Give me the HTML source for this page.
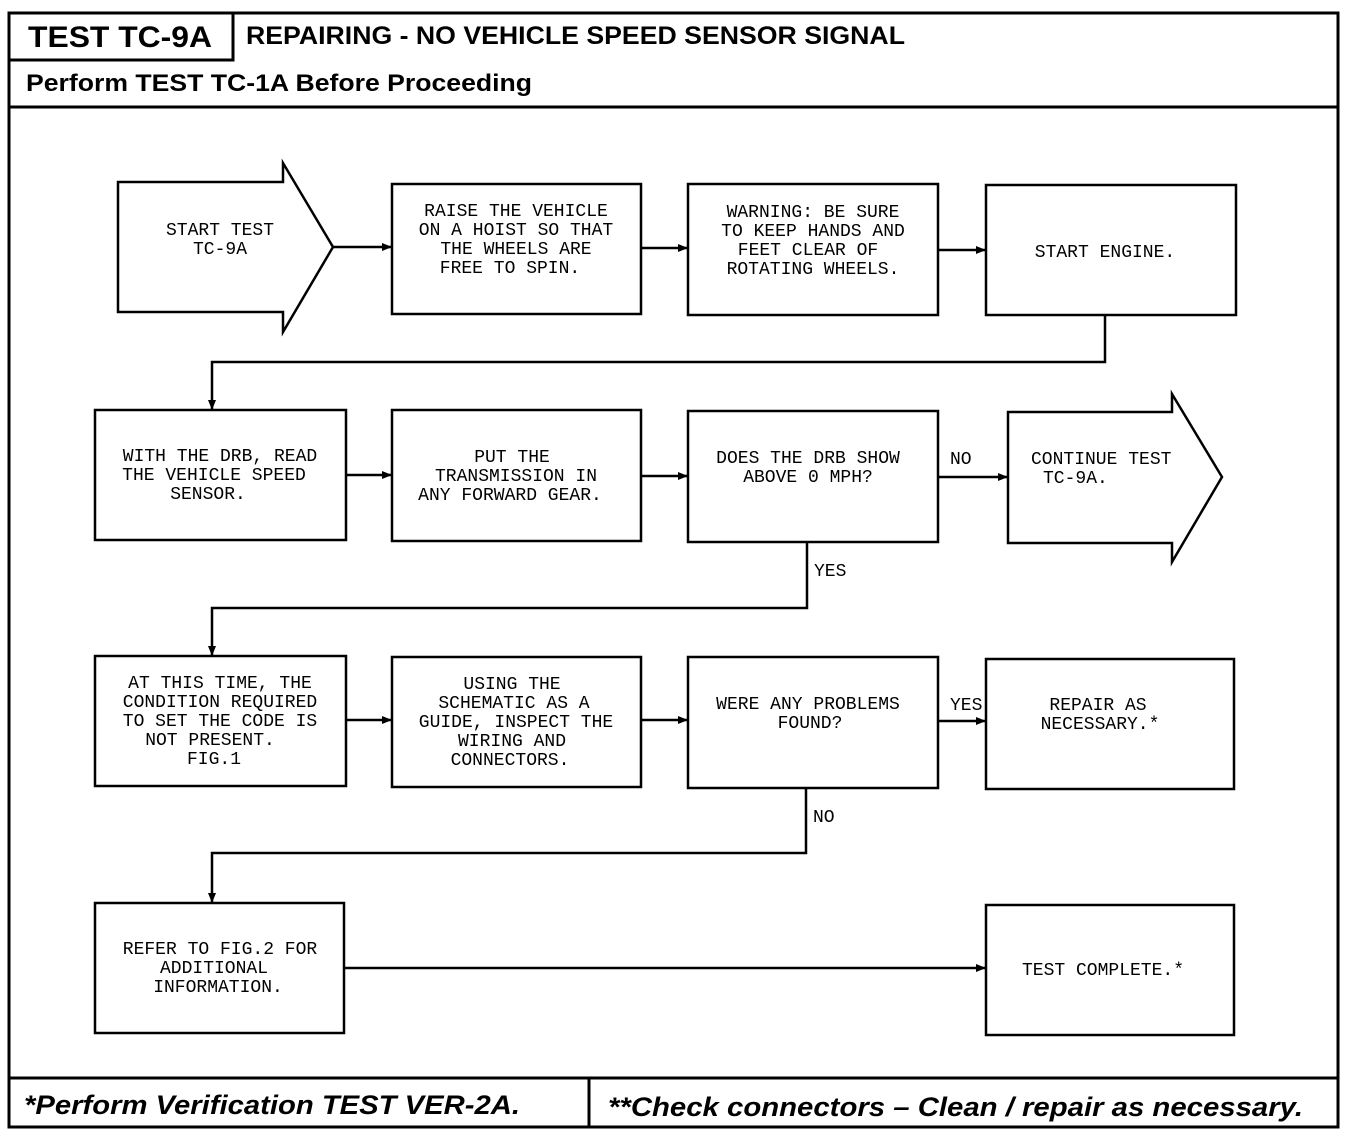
<!DOCTYPE html>
<html><head><meta charset="utf-8"><style>
html,body{margin:0;padding:0;background:#fff;}
svg{display:block;}
.t{font-family:"Liberation Mono",monospace;font-size:18px;fill:#000;text-anchor:middle;}
.l{font-family:"Liberation Mono",monospace;font-size:18px;fill:#000;}
.h{font-family:"Liberation Sans",sans-serif;font-weight:bold;fill:#000;}
</style></head><body>
<svg width="1360" height="1138" viewBox="0 0 1360 1138" xmlns="http://www.w3.org/2000/svg">
<defs><marker id="a" markerWidth="10" markerHeight="8" refX="9" refY="4" orient="auto" markerUnits="userSpaceOnUse"><path d="M0,0 L10,4 L0,8 z" fill="#000"/></marker></defs>
<g fill="none" stroke="#000" stroke-width="3">
<rect x="9" y="13" width="1329" height="1114"/>
<path d="M233 13 V60 H9"/>
<line x1="9" y1="107" x2="1338" y2="107"/>
<line x1="9" y1="1078" x2="1338" y2="1078"/>
<line x1="589" y1="1078" x2="589" y2="1127"/>
</g>
<text class="h" x="28" y="47" font-size="30" textLength="184" lengthAdjust="spacingAndGlyphs">TEST TC-9A</text>
<text class="h" x="246" y="44" font-size="25" textLength="659" lengthAdjust="spacingAndGlyphs">REPAIRING - NO VEHICLE SPEED SENSOR SIGNAL</text>
<text class="h" x="26" y="91" font-size="24" textLength="506" lengthAdjust="spacingAndGlyphs">Perform TEST TC-1A Before Proceeding</text>
<text class="h" x="24" y="1114" font-size="27" font-style="italic" textLength="496" lengthAdjust="spacingAndGlyphs">*Perform Verification TEST VER-2A.</text>
<text class="h" x="608" y="1116" font-size="27" font-style="italic" textLength="695" lengthAdjust="spacingAndGlyphs">**Check connectors – Clean / repair as necessary.</text>

<g fill="none" stroke="#000" stroke-width="2.5">
<path d="M118 182 H283 V163 L333 247 L283 332 V312 H118 Z"/>
<rect x="392" y="184" width="249" height="130"/>
<rect x="688" y="184" width="250" height="131"/>
<rect x="986" y="185" width="250" height="130"/>
<rect x="95" y="410" width="251" height="130"/>
<rect x="392" y="410" width="249" height="131"/>
<rect x="688" y="411" width="250" height="131"/>
<path d="M1008 412 H1172 V394 L1222 477 L1172 562 V543 H1008 Z"/>
<rect x="95" y="656" width="251" height="130"/>
<rect x="392" y="657" width="249" height="130"/>
<rect x="688" y="657" width="250" height="131"/>
<rect x="986" y="659" width="248" height="130"/>
<rect x="95" y="903" width="249" height="130"/>
<rect x="986" y="905" width="248" height="130"/>
</g>
<g fill="none" stroke="#000" stroke-width="2.5" marker-end="url(#a)">
<line x1="333" y1="247" x2="391" y2="247"/>
<line x1="641" y1="248" x2="687" y2="248"/>
<line x1="938" y1="250" x2="985" y2="250"/>
<path d="M1105 315 V362 H212 V409"/>
<line x1="346" y1="475" x2="391" y2="475"/>
<line x1="641" y1="476" x2="687" y2="476"/>
<line x1="938" y1="477" x2="1007" y2="477"/>
<path d="M807 542 V608 H212 V655"/>
<line x1="346" y1="720" x2="391" y2="720"/>
<line x1="641" y1="720" x2="687" y2="720"/>
<line x1="938" y1="721" x2="985" y2="721"/>
<path d="M806 788 V853 H212 V902"/>
<line x1="344" y1="968" x2="985" y2="968"/>
</g>

<text class="t" x="220" y="235">START TEST</text>
<text class="t" x="220" y="254">TC-9A</text>
<text class="t" x="516" y="216">RAISE THE VEHICLE</text>
<text class="t" x="516" y="235">ON A HOIST SO THAT</text>
<text class="t" x="516" y="254">THE WHEELS ARE</text>
<text class="t" x="510" y="273">FREE TO SPIN.</text>
<text class="t" x="813" y="217">WARNING: BE SURE</text>
<text class="t" x="813" y="236">TO KEEP HANDS AND</text>
<text class="t" x="808" y="255">FEET CLEAR OF</text>
<text class="t" x="813" y="274">ROTATING WHEELS.</text>
<text class="t" x="1105" y="257">START ENGINE.</text>

<text class="t" x="220" y="461">WITH THE DRB, READ</text>
<text class="t" x="214" y="480">THE VEHICLE SPEED</text>
<text class="t" x="208" y="499">SENSOR.</text>
<text class="t" x="512" y="462">PUT THE</text>
<text class="t" x="516" y="481">TRANSMISSION IN</text>
<text class="t" x="510" y="500">ANY FORWARD GEAR.</text>
<text class="t" x="808" y="463">DOES THE DRB SHOW</text>
<text class="t" x="808" y="482">ABOVE 0 MPH?</text>
<text class="l" x="950" y="464">NO</text>
<text class="l" x="1031" y="464">CONTINUE TEST</text>
<text class="l" x="1043" y="483">TC-9A.</text>
<text class="l" x="814" y="576">YES</text>

<text class="t" x="220" y="688">AT THIS TIME, THE</text>
<text class="t" x="220" y="707">CONDITION REQUIRED</text>
<text class="t" x="220" y="726">TO SET THE CODE IS</text>
<text class="t" x="210" y="745">NOT PRESENT.</text>
<text class="t" x="214" y="764">FIG.1</text>
<text class="t" x="512" y="689">USING THE</text>
<text class="t" x="514" y="708">SCHEMATIC AS A</text>
<text class="t" x="516" y="727">GUIDE, INSPECT THE</text>
<text class="t" x="512" y="746">WIRING AND</text>
<text class="t" x="510" y="765">CONNECTORS.</text>
<text class="t" x="808" y="709">WERE ANY PROBLEMS</text>
<text class="t" x="810" y="728">FOUND?</text>
<text class="l" x="950" y="710">YES</text>
<text class="t" x="1098" y="710">REPAIR AS</text>
<text class="t" x="1100" y="729">NECESSARY.*</text>
<text class="l" x="813" y="822">NO</text>

<text class="t" x="220" y="954">REFER TO FIG.2 FOR</text>
<text class="t" x="214" y="973">ADDITIONAL</text>
<text class="t" x="218" y="992">INFORMATION.</text>
<text class="t" x="1103" y="975">TEST COMPLETE.*</text>
</svg>
</body></html>
